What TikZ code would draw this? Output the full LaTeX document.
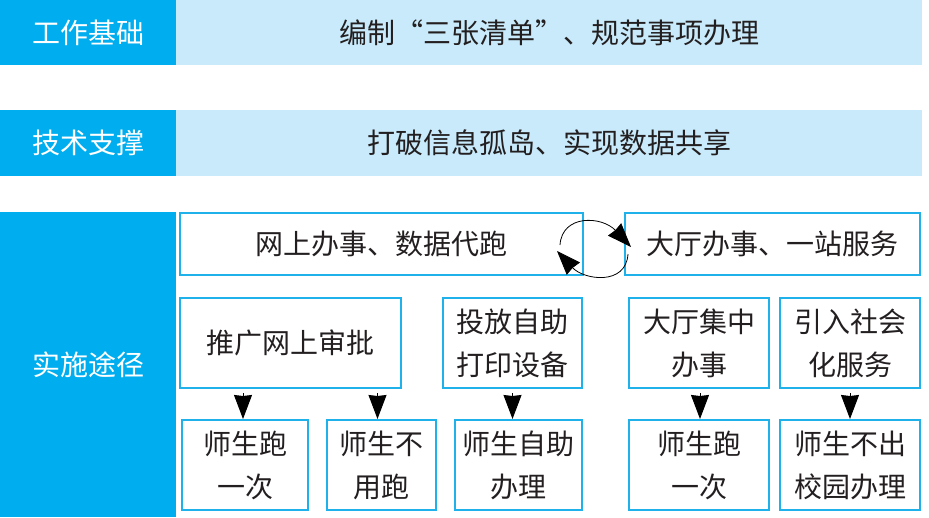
\documentclass[tikz,border=0pt]{standalone}
\usepackage{fontspec}
\setmainfont{Noto Sans CJK SC}
\usetikzlibrary{arrows.meta}

\definecolor{deepblue}{HTML}{00AEEF}
\definecolor{paleblue}{HTML}{C8EAFA}
\definecolor{framec}{HTML}{1EB1EA}
\definecolor{inkc}{HTML}{231F20}

\tikzset{
  head/.style={fill=deepblue,text=white,minimum width=176pt,inner sep=0pt},
  band/.style={fill=paleblue,text=inkc,minimum width=746pt,minimum height=65pt,inner sep=0pt},
  cell/.style={draw=framec,line width=2pt,text=inkc,align=center,inner sep=0pt},
  arr/.style={-{Stealth[length=24pt,width=18pt,inset=1pt]},line width=1pt,black},
  loop/.style={-{Stealth[length=24pt,width=18pt,inset=1pt]},line width=0.8pt,black}
}

\begin{document}
\begin{tikzpicture}[x=1pt,y=-1pt,font=\fontsize{28}{43}\selectfont]
\useasboundingbox (0,0) rectangle (929,517);
\node[head,minimum height=65pt](jc) at (88,32.5){工作基础};
\node[band](jcb) at (549,32.5){编制“三张清单”、规范事项办理};
\node[head,minimum height=66pt](js) at (88,143){技术支撑};
\node[band,minimum height=66pt](jsb) at (549,143){打破信息孤岛、实现数据共享};
\node[head,minimum height=305pt](ss) at (88,364.5){实施途径};

\node[cell,minimum width=403pt,minimum height=62pt](wsbs) at (381.5,244){网上办事、数据代跑};
\node[cell,minimum width=295pt,minimum height=62pt](dtbs) at (772.5,244){大厅办事、一站服务};

\node[cell,minimum width=221pt,minimum height=90pt](tgws) at (290.5,343){推广网上审批};
\node[cell,minimum width=139pt,minimum height=90pt](tfzz) at (512.5,343){投放自助\\打印设备};
\node[cell,minimum width=140pt,minimum height=90pt](dtjz) at (699,343){大厅集中\\办事};
\node[cell,minimum width=140pt,minimum height=90pt](yrsh) at (850,343){引入社会\\化服务};

\node[cell,minimum width=126pt,minimum height=90pt](pyc) at (245,465){师生跑\\一次};
\node[cell,minimum width=109pt,minimum height=90pt](byp) at (381.5,465){师生不\\用跑};
\node[cell,minimum width=127pt,minimum height=90pt](zzbl) at (518.5,465){师生自助\\办理};
\node[cell,minimum width=140pt,minimum height=90pt](pyc2) at (699,465){师生跑\\一次};
\node[cell,minimum width=140pt,minimum height=90pt](bcx) at (850,465){师生不出\\校园办理};

\draw[arr]([xshift=-2pt,yshift=-4pt]pyc.north |- tgws.south)--([xshift=-2pt]pyc.north);
\draw[arr]([xshift=-4pt,yshift=-4pt]byp.north |- tgws.south)--([xshift=-4pt]byp.north);
\draw[arr]([xshift=-6pt,yshift=-4pt]zzbl.north |- tfzz.south)--([xshift=-6pt]zzbl.north);
\draw[arr]([xshift=1pt,yshift=-4pt]pyc2.north |- dtjz.south)--([xshift=1pt]pyc2.north);
\draw[arr]([yshift=-4pt]bcx.north |- yrsh.south)--(bcx.north);

\coordinate (ws1) at ([xshift=-24pt,yshift=-1pt]wsbs.east);
\coordinate (ws2) at ([xshift=-27pt,yshift=-7pt]wsbs.east);
\coordinate (dt1) at ([xshift=7pt,yshift=-3pt]dtbs.west);
\coordinate (dt2) at ([xshift=4pt,yshift=-10pt]dtbs.west);
\draw[loop](ws1) .. controls (562,214) and (602,216) .. (dt1);
\draw[loop](dt2) .. controls (626,286) and (584,280) .. (ws2);
\end{tikzpicture}
\end{document}
